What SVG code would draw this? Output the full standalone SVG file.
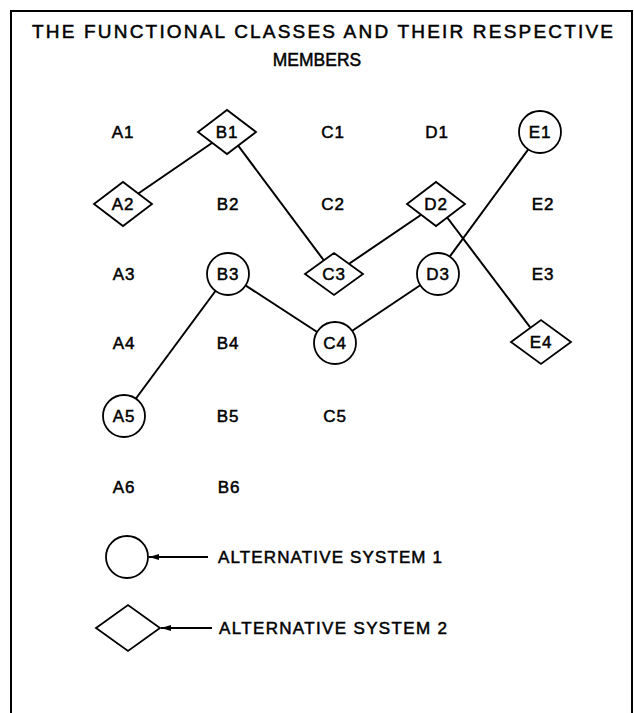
<svg xmlns="http://www.w3.org/2000/svg" width="634" height="713" viewBox="0 0 634 713">
<style>
.frame{fill:none;stroke:#000;stroke-width:2}
.ln{stroke:#000;stroke-width:2;fill:none}
.shp{fill:#fff;stroke:#000;stroke-width:1.8}
.lbl{font-family:"Liberation Sans",Arial,sans-serif;font-size:17px;letter-spacing:0.8px;text-anchor:middle;fill:#000;stroke:#000;stroke-width:0.5}
.ttl{font-family:"Liberation Sans",Arial,sans-serif;font-size:19px;fill:#000;stroke:#000;stroke-width:0.5}
.leg{font-family:"Liberation Sans",Arial,sans-serif;font-size:17px;fill:#000;stroke:#000;stroke-width:0.5}
</style>
<defs>
<marker id="ah" viewBox="0 0 10 10" refX="10" refY="5" markerWidth="10" markerHeight="10" markerUnits="userSpaceOnUse" orient="auto">
<path d="M0,2 L10,5 L0,8 Z" fill="#000"/>
</marker>
</defs>
<rect width="634" height="713" fill="#fff"/>
<path class="frame" d="M11,713 V11 H632 V713"/>
<text class="ttl" x="32" y="38" textLength="581" lengthAdjust="spacing">THE FUNCTIONAL  CLASSES  AND  THEIR  RESPECTIVE</text>
<text class="ttl" x="317" y="66" text-anchor="middle" transform="translate(317 0) scale(0.92 1) translate(-317 0)">MEMBERS</text>

<g id="connectors">
<line class="ln" x1="123" y1="204" x2="228" y2="132"/>
<line class="ln" x1="228" y1="132" x2="334" y2="274"/>
<line class="ln" x1="334" y1="274" x2="437" y2="204"/>
<line class="ln" x1="437" y1="204" x2="542" y2="343"/>
<line class="ln" x1="123" y1="416" x2="228" y2="274"/>
<line class="ln" x1="228" y1="274" x2="334" y2="343"/>
<line class="ln" x1="334" y1="343" x2="437" y2="274"/>
<line class="ln" x1="437" y1="274" x2="541" y2="132"/>
</g>

<g id="A1"><text class="lbl" x="123" y="138">A1</text></g>
<g id="A2"><path class="shp" d="M94,204 L123,182 L152,204 L123,226 Z"/><text class="lbl" x="123" y="210">A2</text></g>
<g id="A3"><text class="lbl" x="124" y="280">A3</text></g>
<g id="A4"><text class="lbl" x="124" y="349">A4</text></g>
<g id="A5"><circle class="shp" cx="124" cy="416" r="21"/><text class="lbl" x="124" y="422">A5</text></g>
<g id="A6"><text class="lbl" x="124" y="493">A6</text></g>

<g id="B1"><path class="shp" d="M198,132 L227,110 L256,132 L227,154 Z"/><text class="lbl" x="227" y="138">B1</text></g>
<g id="B2"><text class="lbl" x="228" y="210">B2</text></g>
<g id="B3"><circle class="shp" cx="228" cy="274" r="21"/><text class="lbl" x="228" y="280">B3</text></g>
<g id="B4"><text class="lbl" x="228" y="349">B4</text></g>
<g id="B5"><text class="lbl" x="228" y="422">B5</text></g>
<g id="B6"><text class="lbl" x="229" y="493">B6</text></g>

<g id="C1"><text class="lbl" x="333" y="138">C1</text></g>
<g id="C2"><text class="lbl" x="333" y="210">C2</text></g>
<g id="C3"><path class="shp" d="M305,274 L334,253 L363,274 L334,295 Z"/><text class="lbl" x="334" y="280">C3</text></g>
<g id="C4"><circle class="shp" cx="335" cy="343" r="21"/><text class="lbl" x="335" y="349">C4</text></g>
<g id="C5"><text class="lbl" x="335" y="422">C5</text></g>

<g id="D1"><text class="lbl" x="437" y="138">D1</text></g>
<g id="D2"><path class="shp" d="M407,204 L436,182 L465,204 L436,226 Z"/><text class="lbl" x="436" y="210">D2</text></g>
<g id="D3"><circle class="shp" cx="438" cy="274" r="21"/><text class="lbl" x="438" y="280">D3</text></g>

<g id="E1"><circle class="shp" cx="540" cy="132" r="21"/><text class="lbl" x="540" y="138">E1</text></g>
<g id="E2"><text class="lbl" x="543" y="210">E2</text></g>
<g id="E3"><text class="lbl" x="543" y="280">E3</text></g>
<g id="E4"><path class="shp" d="M511,342 L541,320 L571,342 L541,364 Z"/><text class="lbl" x="541" y="348">E4</text></g>

<g id="legend1">
<circle class="shp" cx="127" cy="557" r="21"/>
<line class="ln" x1="208" y1="557" x2="149" y2="557" marker-end="url(#ah)"/>
<text class="leg" x="218" y="563" textLength="224" lengthAdjust="spacing">ALTERNATIVE  SYSTEM  1</text>
</g>
<g id="legend2">
<path class="shp" d="M96,628 L128,605 L160,628 L128,651 Z"/>
<line class="ln" x1="212" y1="628" x2="161" y2="628" marker-end="url(#ah)"/>
<text class="leg" x="219" y="634" textLength="228" lengthAdjust="spacing">ALTERNATIVE  SYSTEM  2</text>
</g>
</svg>
